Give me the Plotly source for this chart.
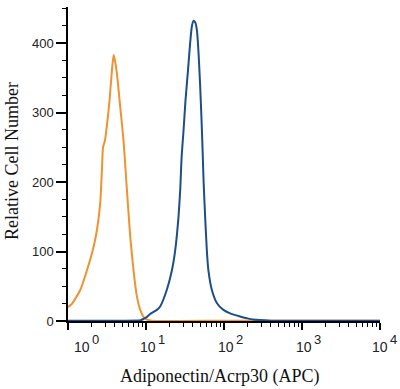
import plotly.graph_objects as go

# ---- data ----
isotype_x = [1.0, 1.13, 1.44, 1.75, 2.13, 2.35, 2.59, 2.72, 2.81, 2.88, 3.0, 3.21, 3.41, 3.66, 3.84,
             3.95, 4.24, 4.67, 5.15, 5.58, 6.28, 6.92, 7.65, 8.43, 9.29, 10.3, 12.0, 100.0, 10000.0]
isotype_y = [20, 25, 45, 73, 107, 131, 170, 217, 250, 254, 262, 289, 318, 361, 383,
             378, 356, 308, 260, 203, 121, 73, 35, 16, 6, 2, 0.5, 0.3, 0.3]

adipo_x = [1.0, 5.0, 8.5, 9.3, 10.3, 11.3, 13.8, 15.2, 18.5, 21.5, 23.7, 26.1, 27.5, 28.6, 30.2,
           32.1, 34.5, 36.8, 38.7, 40.6, 42.7, 44.9, 47.2, 49.4, 51.5, 53.2, 54.8, 57.3, 60.2,
           63.1, 69.8, 80.9, 98.3, 119.7, 160.7, 196.0, 236.0, 400.0, 10000.0]
adipo_y = [0.3, 0.3, 1, 3, 6, 10, 16, 21, 45, 73, 102, 150, 190, 236, 272,
           318, 360, 400, 424, 432, 430, 419, 385, 340, 290, 245, 200, 150, 102,
           73, 45, 26, 16, 11, 6.5, 4, 2, 0.5, 0.3]

y_tick_vals = [0, 100, 200, 300, 400]
x_tick_exponents = [0, 1, 2, 3, 4]

x_title = "Adiponectin/Acrp30 (APC)"
y_title = "Relative Cell Number"

# ---- layout geometry ----
W, H = 400, 389
L, R, T, B = 68, 20, 7, 68
YMAX = 452

def px_x(p):
    return (p - L) / (W - L - R)

def px_y(p):
    return (H - B - p) / (H - T - B)

fig = go.Figure()
fig.add_trace(go.Scatter(x=isotype_x, y=isotype_y, mode="lines",
                         line=dict(color="#ee9330", width=2, shape="spline", smoothing=0.5),
                         cliponaxis=False, showlegend=False, hoverinfo="skip"))
fig.add_trace(go.Scatter(x=adipo_x, y=adipo_y, mode="lines",
                         line=dict(color="#1d4e89", width=2, shape="spline", smoothing=0.5),
                         cliponaxis=False, showlegend=False, hoverinfo="skip"))

minor_x = [m * 10 ** d for d in range(4) for m in range(2, 10)]
minor_y = [v for v in range(25, YMAX, 25) if v % 100 != 0]

fig.update_xaxes(type="log", range=[0, 4], showgrid=False, zeroline=False,
                 showline=True, linecolor="black", linewidth=1.5,
                 ticks="outside", tickmode="array", tickvals=[10 ** e for e in x_tick_exponents],
                 ticklen=7, tickwidth=1.5, tickcolor="black", showticklabels=False,
                 minor=dict(ticks="outside", tickmode="array", tickvals=minor_x,
                            ticklen=4, tickwidth=1.2, tickcolor="black", showgrid=False))
fig.update_yaxes(range=[0, YMAX], showgrid=False, zeroline=False,
                 showline=True, linecolor="black", linewidth=1.5,
                 ticks="outside", tickmode="array", tickvals=y_tick_vals,
                 ticklen=10, tickwidth=1.5, tickcolor="black",
                 tickfont=dict(family="Liberation Sans", size=13, color="#222"),
                 minor=dict(ticks="outside", tickmode="array", tickvals=minor_y,
                            ticklen=4, tickwidth=1.2, tickcolor="black", showgrid=False))

annotations = []
tick_px = {0: 82, 1: 148, 2: 225.5, 3: 303.5, 4: 380}
for e in x_tick_exponents:
    cx = tick_px[e]
    annotations.append(dict(text="10", x=px_x(cx), y=px_y(347), xref="paper", yref="paper",
                            xanchor="center", yanchor="middle", showarrow=False,
                            font=dict(family="Liberation Sans", size=14, color="#222")))
    annotations.append(dict(text=str(e), x=px_x(cx + 8), y=px_y(339), xref="paper", yref="paper",
                            xanchor="left", yanchor="middle", showarrow=False,
                            font=dict(family="Liberation Sans", size=13, color="#222")))

annotations.append(dict(text=x_title, x=px_x(219.5), y=px_y(376), xref="paper", yref="paper",
                        xanchor="center", yanchor="middle", showarrow=False,
                        font=dict(family="Liberation Serif", size=18, color="#111")))
annotations.append(dict(text=y_title, x=px_x(12), y=px_y(161), xref="paper", yref="paper",
                        xanchor="center", yanchor="middle", showarrow=False, textangle=-90,
                        font=dict(family="Liberation Serif", size=18, color="#111")))

fig.update_layout(width=W, height=H, margin=dict(l=L, r=R, t=T, b=B),
                  plot_bgcolor="white", paper_bgcolor="white", annotations=annotations)

fig.write_html("out.html", config={"displayModeBar": False},
               post_script="document.body.style.margin='0';document.body.style.overflow='hidden';")
